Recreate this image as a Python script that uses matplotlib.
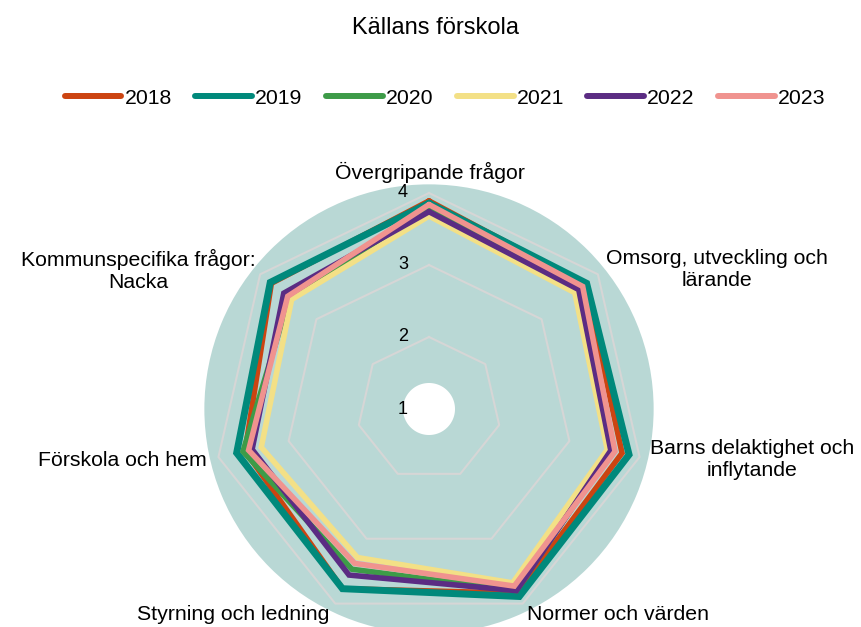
import numpy as np
import matplotlib
matplotlib.use('Agg')
import matplotlib.pyplot as plt
from matplotlib.transforms import offset_copy

plt.rcParams['font.family'] = ['Liberation Sans', 'DejaVu Sans']

categories = ['Övergripande frågor', 'Omsorg, utveckling och\nlärande',
              'Barns delaktighet och\ninflytande', 'Normer och värden',
              'Styrning och ledning', 'Förskola och hem',
              'Kommunspecifika frågor:\nNacka']
years = ['2018', '2019', '2020', '2021', '2022', '2023']
v2018 = [3.89, 3.78, 3.75, 3.84, 3.77, 3.62, 3.80]
v2019 = [3.86, 3.80, 3.85, 3.89, 3.77, 3.74, 3.82]
v2020 = [3.79, 3.65, 3.59, 3.80, 3.47, 3.65, 3.48]
v2021 = [3.68, 3.59, 3.54, 3.68, 3.29, 3.39, 3.44]
v2022 = [3.74, 3.66, 3.59, 3.80, 3.56, 3.52, 3.58]
v2023 = [3.84, 3.73, 3.65, 3.73, 3.38, 3.57, 3.51]
series = [v2018, v2019, v2020, v2021, v2022, v2023]
colors = ['#cc4411', '#00897b', '#3d9b48', '#f3e086', '#5b2c83', '#f0938f']
widths = [4, 5, 4, 4, 4, 4]
rticks = [1, 2, 3, 4]

W, H = 861, 627
fig = plt.figure(figsize=(W / 100, H / 100), dpi=100)

# polar axes: centre (429, 409) px, 72 px per unit, r=1 at centre
cx, cy, k = 429, 409, 72
rmin, rmax = 1, 4.12
R = (rmax - rmin) * k
ax = fig.add_axes([(cx - R) / W, (H - cy - R) / H, 2 * R / W, 2 * R / H],
                  projection='polar')
ax.set_theta_offset(np.pi / 2)
ax.set_theta_direction(-1)
ax.set_ylim(rmin, rmax)
ax.set_facecolor('#b9d8d5')
ax.spines['polar'].set_visible(False)
ax.set_xticks([])
ax.set_yticks([])
ax.grid(False)

n = len(categories)
theta = np.linspace(0, 2 * np.pi, n, endpoint=False)
tc = np.append(theta, theta[0])

for r in rticks[1:]:
    ax.plot(tc, [r] * (n + 1), color='#d6d6d6', lw=1.5, zorder=1)

for vals, col, lw, yr in zip(series, colors, widths, years):
    ax.plot(tc, vals + vals[:1], color=col, lw=lw, label=yr, zorder=2,
            solid_joinstyle='miter', solid_capstyle='round')

# white hole in the middle
tt = np.linspace(0, 2 * np.pi, 200)
ax.fill(tt, [1 + 26 / k] * len(tt), color='white', zorder=5, lw=0)

for r in rticks:
    tr = offset_copy(ax.transData, fig=fig, x=-26, y=0, units='dots')
    ax.text(0, r, str(r), transform=tr, ha='center', va='center',
            fontsize=13, zorder=6)

label_pos = [(430, 172), (717, 270), (752, 460), (618, 614),
             (233, 614), (122, 461), (138, 270)]
for lab, (x, y) in zip(categories, label_pos):
    fig.text(x / W, 1 - y / H, lab, ha='center', va='center',
             fontsize=15.3, linespacing=1.2)

fig.text(436 / W, 1 - 28 / H, 'Källans förskola', ha='center', va='center',
         fontsize=17)

handles, labels = ax.get_legend_handles_labels()
leg = fig.legend(handles, labels, loc='center', ncol=6,
                 bbox_to_anchor=(445 / W, 1 - 98 / H), frameon=False,
                 fontsize=15.3, handlelength=2.68, handletextpad=0.14,
                 columnspacing=1.1)
for h in leg.get_lines():
    h.set_linewidth(4.3)
    h.set_solid_capstyle('round')

fig.savefig('out.png', dpi=100)
